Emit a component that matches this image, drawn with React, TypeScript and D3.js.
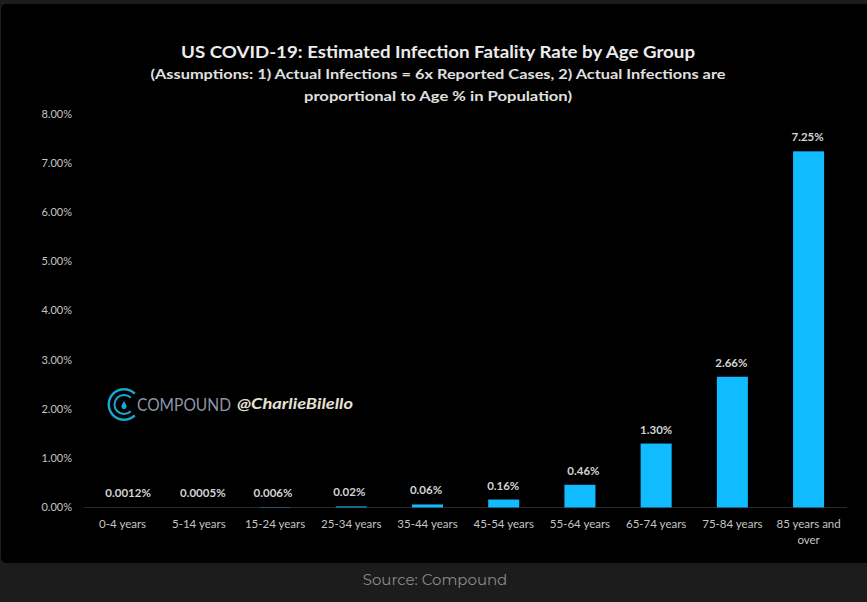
import React from "react";
import * as d3 from "d3";

const categories = ["0-4 years","5-14 years","15-24 years","25-34 years","35-44 years","45-54 years","55-64 years","65-74 years","75-84 years","85 years and|over"];
const values = [0.0012,0.0005,0.006,0.02,0.06,0.16,0.46,1.30,2.66,7.25];
const valueLabels = ["0.0012%","0.0005%","0.006%","0.02%","0.06%","0.16%","0.46%","1.30%","2.66%","7.25%"];
const labelNudge = [5.5,4,-2,-2,-1.5,-0.5,3.5,0,-1,-1];
const yTicks = [0,1,2,3,4,5,6,7,8];
const titleLine = "US COVID-19: Estimated Infection Fatality Rate by Age Group";
const subLines = ["(Assumptions: 1) Actual Infections = 6x Reported Cases, 2) Actual Infections are","proportional to Age % in Population)"];
const sourceText = "Source: Compound";

const W = 867, H = 602;
const FONT = "Lato, 'Open Sans', sans-serif";

export default function App() {
  const x = d3.scaleBand<string>().domain(categories).range([84.6, 846.6]).paddingInner(0.593).paddingOuter(0.295);
  const y = d3.scaleLinear().domain([0, 8]).range([507.4, 114.5]);
  const arc = d3.arc();
  const ring = (r0: number, r1: number) =>
    arc({ innerRadius: r0, outerRadius: r1, startAngle: Math.PI * 0.75, endAngle: Math.PI * 2.25 }) as string;
  return (
    <svg width={W} height={H} viewBox={`0 0 ${W} ${H}`} style={{ position: "absolute", left: 0, top: 0, display: "block" }} fontFamily={FONT}>
      <rect width={W} height={H} fill="#1c1c1c" />
      <rect x={1} y={4} width={W + 10} height={559} rx={5} fill="#000" />
      <text x={438} y={58} textAnchor="middle" fill="#ececec" fontSize={17.5} fontWeight={700} textLength={514} lengthAdjust="spacingAndGlyphs">{titleLine}</text>
      <text x={438} y={79} textAnchor="middle" fill="#e0e0e0" fontSize={14} fontWeight={700} textLength={575} lengthAdjust="spacingAndGlyphs">{subLines[0]}</text>
      <text x={438} y={100.5} textAnchor="middle" fill="#e0e0e0" fontSize={14} fontWeight={700} textLength={268} lengthAdjust="spacingAndGlyphs">{subLines[1]}</text>

      {yTicks.map(t => (
        <text key={t} x={72} y={y(t) + 3.5} textAnchor="end" fill="#c4c4c4" fontSize={11}>{d3.format(".2f")(t)}%</text>
      ))}
      <line x1={84} x2={847} y1={507.5} y2={507.5} stroke="#2a2a2a" />

      {categories.map((c, i) => (
        <rect key={c} x={x(c)} width={x.bandwidth()} y={y(values[i])} height={y(0) - y(values[i])} fill="#10bbff" />
      ))}
      {categories.map((c, i) => (
        <text key={c} x={x(c)! + x.bandwidth() / 2 + labelNudge[i]} y={y(values[i]) - 10} textAnchor="middle" fill="#d4d4d4" fontSize={11.5} fontWeight={700}>{valueLabels[i]}</text>
      ))}
      {categories.map(c => {
        const parts = c.split("|");
        return (
          <text key={c} textAnchor="middle" fill="#c4c4c4" fontSize={11.5}>
            {parts.map((p, j) => (
              <tspan key={p} x={x(c)! + x.bandwidth() / 2} y={527.5 + j * 16}>{p}</tspan>
            ))}
          </text>
        );
      })}

      <g transform="translate(124,404.5)">
        <path d={ring(14, 16.5)} fill="#19a6cf" />
        <path d={ring(8.5, 10.5)} fill="#19a6cf" />
        <path d="M0,-3.5 L2.2,0.6 A2.6,2.6 0 1 1 -2.2,0.6 Z" fill="#19a6cf" />
      </g>
      <text x={137} y={411} fill="#8d94a8" fontSize={18} textLength={94} lengthAdjust="spacingAndGlyphs">COMPOUND</text>
      <text x={237} y={409} fill="#e6e0d4" fontSize={16} fontWeight={700} fontStyle="italic" textLength={116} lengthAdjust="spacingAndGlyphs">@CharlieBilello</text>

      <text x={435} y={585} textAnchor="middle" fill="#8a8a8a" fontSize={15} fontFamily="Montserrat, 'Open Sans', sans-serif">{sourceText}</text>
    </svg>
  );
}
